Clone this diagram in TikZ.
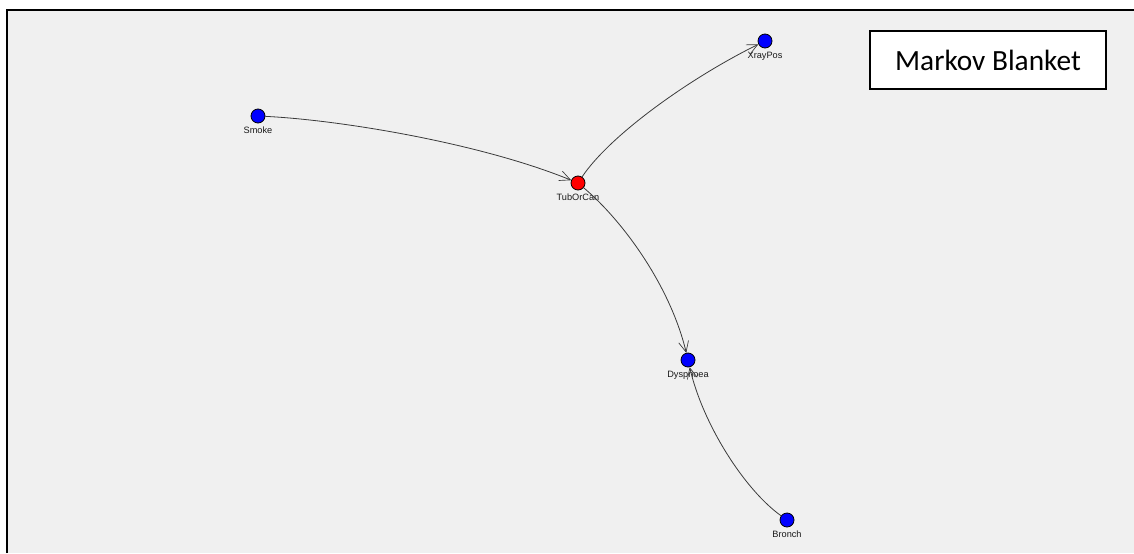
\documentclass[tikz,border=0pt]{standalone}
\usepackage{fontspec}
\setmainfont{Liberation Sans}
\newfontfamily\boxfont{Carlito}
\usetikzlibrary{arrows.meta}
\definecolor{panel}{HTML}{F0F0F0}
\definecolor{edgegray}{HTML}{3A3A3A}
\definecolor{netblue}{RGB}{0,0,255}
\definecolor{netred}{RGB}{255,0,0}
\tikzset{
  var/.style={circle, draw=black, line width=0.6pt, minimum size=10.5pt, inner sep=0pt,
    fill=netblue},
  varlabel/.style={font=\fontsize{6.9}{8}\selectfont, inner sep=0pt, text=black!90},
  link/.style={draw=edgegray, line width=0.6pt,
    -{Straight Barb[length=8pt, width=7.5pt, line width=0.5pt]}},
}
\begin{document}
\begin{tikzpicture}[x=0.75pt, y=-0.75pt]
  % page and panel
  \useasboundingbox (0,0) rectangle (1134,553);
  \fill[white] (0,0) rectangle (1134,553);
  \fill[panel] (7,10) rectangle (1134,553);
  \draw[black, line width=1.5pt] (7,553) -- (7,10) -- (1134,10);

  % variables
  \node[var, label={[varlabel, label distance=2.6pt]below:Smoke}] (smoke) at (258,116) {};
  \node[var, fill=netred, label={[varlabel, label distance=2.6pt]below:TubOrCan}] (tub) at (578,183) {};
  \node[var, label={[varlabel, label distance=2.6pt]below:XrayPos}] (xray) at (765,41) {};
  \node[var, label={[varlabel, label distance=2.6pt]below:Dyspnoea}] (dysp) at (688,360) {};
  \node[var, label={[varlabel, label distance=2.6pt]below:Bronch}] (bronch) at (787,520) {};

  % links
  \draw[link] (smoke) .. controls (340,120) and (480,143) .. (tub);
  \draw[link] (tub) .. controls (610,135) and (690,78) .. (xray);
  \draw[link] (tub) .. controls (622,220) and (670,285) .. (dysp);
  \draw[link] (bronch) .. controls (745,490) and (703,425) .. (dysp);

  % legend box
  \node[draw=black, line width=1pt, fill=white, minimum width=177pt, minimum height=43.5pt,
    font=\boxfont\fontsize{22}{25}\selectfont] (legend) at (988,60) {Markov Blanket};
\end{tikzpicture}
\end{document}
